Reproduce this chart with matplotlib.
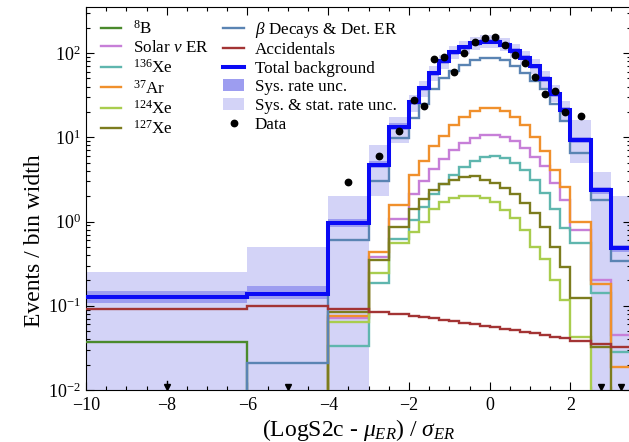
import numpy as np
import matplotlib
matplotlib.use("Agg")
import matplotlib.pyplot as plt
from matplotlib.ticker import MultipleLocator, LogLocator, NullFormatter
from matplotlib.lines import Line2D
from matplotlib.patches import Patch

# schrift wie im original (times-artig)
plt.rcParams["font.family"] = "serif"
plt.rcParams["font.serif"] = ["Liberation Serif", "DejaVu Serif"]
plt.rcParams["mathtext.fontset"] = "custom"
plt.rcParams["mathtext.rm"] = "Liberation Serif"
plt.rcParams["mathtext.it"] = "Liberation Serif:italic"
plt.rcParams["mathtext.bf"] = "Liberation Serif:bold"

# bin-kanten
kanten = [-10, -6, -4, -3, -2.5, -2, -1.75, -1.5, -1.25, -1, -0.75, -0.5, -0.25,
          0, 0.25, 0.5, 0.75, 1, 1.25, 1.5, 1.75, 2, 2.5, 3, 3.5]

# ereignisse / bin breite pro untergrund
b8 = [0.037, 0.004, 0.003, 0.003, 0.003, 0.003, 0.003, 0.003, 0.003, 0.003, 0.003, 0.003,
      0.003, 0.003, 0.003, 0.003, 0.003, 0.003, 0.003, 0.003, 0.003, 0.003, 0.002, 0.002]
solar = [0.001, 0.001, 0.071, 0.38, 1.06, 2.1, 3.0, 4.2, 5.5, 7.0, 8.5, 9.8,
         10.6, 10.7, 10.2, 9.0, 7.5, 5.8, 4.6, 2.9, 1.8, 0.79, 0.2, 0.045]
xe136 = [0.001, 0.001, 0.033, 0.185, 0.62, 1.05, 1.5, 2.1, 2.8, 3.6, 4.5, 5.3,
         5.9, 6.0, 5.7, 5.0, 4.1, 3.1, 2.2, 1.4, 0.84, 0.55, 0.14, 0.0285]
ar37 = [0.001, 0.001, 0.075, 0.43, 1.57, 3.6, 5.3, 7.8, 10.5, 14, 17.5, 20.5,
        22, 22, 20.5, 17.5, 14, 10, 6.8, 4.1, 2.6, 1.0, 0.18, 0.019]
xe124 = [0.001, 0.001, 0.065, 0.243, 0.55, 0.75, 1.0, 1.4, 1.7, 1.88, 2.0, 2.0,
         1.9, 1.72, 1.37, 1.09, 0.79, 0.5, 0.36, 0.2, 0.117, 0.043, 0.001, 0.001]
xe127 = [0.001, 0.001, 0.085, 0.35, 0.87, 1.4, 1.85, 2.35, 2.8, 3.1, 3.4, 3.45,
         3.15, 2.85, 2.5, 2.1, 1.65, 1.25, 0.85, 0.5, 0.29, 0.123, 0.032, 0.002]
beta = [0.003, 0.021, 0.6, 3.06, 9.8, 17, 25, 37, 50, 62, 73, 82,
        87, 87, 82, 70, 58, 47, 37, 25, 15.5, 6.5, 1.78, 0.34]
accidentals = [0.092, 0.100, 0.091, 0.084, 0.079, 0.075, 0.073, 0.071, 0.068, 0.066, 0.063, 0.061,
               0.058, 0.056, 0.053, 0.051, 0.049, 0.047, 0.045, 0.043, 0.041, 0.038, 0.035, 0.032]
total = [0.128, 0.138, 0.95, 4.7, 13.4, 26, 38, 58, 80, 102, 118, 130,
         137, 137, 126, 106, 88, 70, 49, 33, 21, 9.3, 2.37, 0.48]

# unsicherheitsbaender (unten / oben)
sys_lo = [0.108, 0.122, 0.85, 4.3, 12.3, 24, 35, 54, 74, 95, 110, 121,
          127, 127, 117, 98, 82, 65, 45, 30.5, 19.4, 8.5, 2.15, 0.43]
sys_hi = [0.148, 0.172, 1.06, 5.2, 14.6, 28, 41, 62, 86, 109, 126, 139,
          147, 147, 135, 114, 94, 75, 53, 35.5, 22.6, 10.2, 2.6, 0.53]
stat_lo = [0.001, 0.001, 0.001, 2.0, 8.5, 20, 30, 47, 65, 84, 98, 109,
           115, 115, 105, 88, 72, 57, 39, 26, 16, 5.0, 0.001, 0.001]
stat_hi = [0.25, 0.5, 2.0, 8.1, 17.6, 32, 46, 70, 96, 122, 140, 154,
           162, 162, 150, 127, 106, 86, 61, 42, 27, 16, 3.9, 2.0]

# daten (0 = kein ereignis -> pfeil)
daten = [0, 0, 2.98, 6.0, 12.0, 27.8, 23.8, 84.7, 89.4, 59.3, 99.8, 137,
         150, 157, 125, 95.3, 75.9, 51.8, 32.7, 35.9, 20.2, 17.9, 0, 0]

kurven = [
    (b8, "#4a8a2c", r"$^{8}$B"),
    (solar, "#c77fd8", r"Solar $\nu$ ER"),
    (xe136, "#5fb6ae", r"$^{136}$Xe"),
    (ar37, "#f0902c", r"$^{37}$Ar"),
    (xe124, "#a9cd4e", r"$^{124}$Xe"),
    (xe127, "#7c7c1e", r"$^{127}$Xe"),
]

farbe_beta = "#5a84b3"
farbe_acc = "#a33434"
farbe_total = "#0a0af5"
farbe_sys = "#9d9df0"
farbe_stat = "#d3d3f7"

fig = plt.figure(figsize=(6.29, 4.42), dpi=100)
ax = fig.add_axes([0.1367, 0.1176, 0.8665, 0.8672])

kanten = np.array(kanten)
mitte = (kanten[:-1] + kanten[1:]) / 2

# baender
ax.stairs(stat_hi, kanten, baseline=stat_lo, fill=True, color=farbe_stat, lw=0, zorder=1)
ax.stairs(sys_hi, kanten, baseline=sys_lo, fill=True, color=farbe_sys, lw=0, zorder=1.5)

# einzelne untergruende
for werte, farbe, name in kurven:
    ax.stairs(werte, kanten, baseline=None, color=farbe, lw=1.7, zorder=3)
ax.stairs(beta, kanten, baseline=None, color=farbe_beta, lw=1.7, zorder=3)
ax.stairs(accidentals, kanten, baseline=None, color=farbe_acc, lw=1.7, zorder=3)
ax.stairs(total, kanten, baseline=None, color=farbe_total, lw=2.9, zorder=4)

# datenpunkte und pfeile fuer leere bins
daten = np.array(daten)
leer = daten == 0
ax.plot(mitte[~leer], daten[~leer], "o", color="black", ms=4.6, zorder=5)
ax.plot(mitte[leer], np.full(leer.sum(), 0.011), "v", color="black", ms=4.5, zorder=5)
# der erste pfeil hat einen kleinen stiel
ax.plot([mitte[0], mitte[0]], [0.0112, 0.0128], color="black", lw=1, zorder=5)

ax.set_yscale("log")
ax.set_xlim(-10, 3.5)
ax.set_ylim(1e-2, 355)
ax.xaxis.set_major_locator(MultipleLocator(2))
ax.xaxis.set_minor_locator(MultipleLocator(0.5))
ax.yaxis.set_minor_locator(LogLocator(base=10, subs=np.arange(2, 10)))
ax.yaxis.set_minor_formatter(NullFormatter())
ax.tick_params(which="both", direction="in", top=True, right=True, labelsize=13, width=0.8)
ax.tick_params(which="major", length=6)
ax.tick_params(which="minor", length=3)
ax.tick_params(axis="x", pad=5)

ax.set_xlabel(r"(LogS2c - $\mu_{ER}$) / $\sigma_{ER}$", fontsize=17, labelpad=2)
ax.set_ylabel("Events / bin width", fontsize=17)
ax.yaxis.set_label_coords(-0.075, 0.39)

# legende in zwei spalten
griffe = [Line2D([], [], color=f, lw=1.7) for w, f, n in kurven]
namen = [n for w, f, n in kurven]
griffe += [Line2D([], [], color=farbe_beta, lw=1.7),
           Line2D([], [], color=farbe_acc, lw=1.7),
           Line2D([], [], color=farbe_total, lw=2.9),
           Patch(facecolor=farbe_sys),
           Patch(facecolor=farbe_stat),
           Line2D([], [], color="black", marker="o", ls="", ms=4.6)]
namen += [r"$\beta$ Decays & Det. ER", "Accidentals", "Total background",
          "Sys. rate unc.", "Sys. & stat. rate unc.", "Data"]
ax.legend(griffe, namen, ncol=2, loc="upper left", bbox_to_anchor=(0.028, 0.966),
          frameon=False, fontsize=12.3, handlelength=1.18, handletextpad=0.66,
          columnspacing=0.86, labelspacing=0.15, borderpad=0, borderaxespad=0)

fig.savefig("out.png", dpi=100)
